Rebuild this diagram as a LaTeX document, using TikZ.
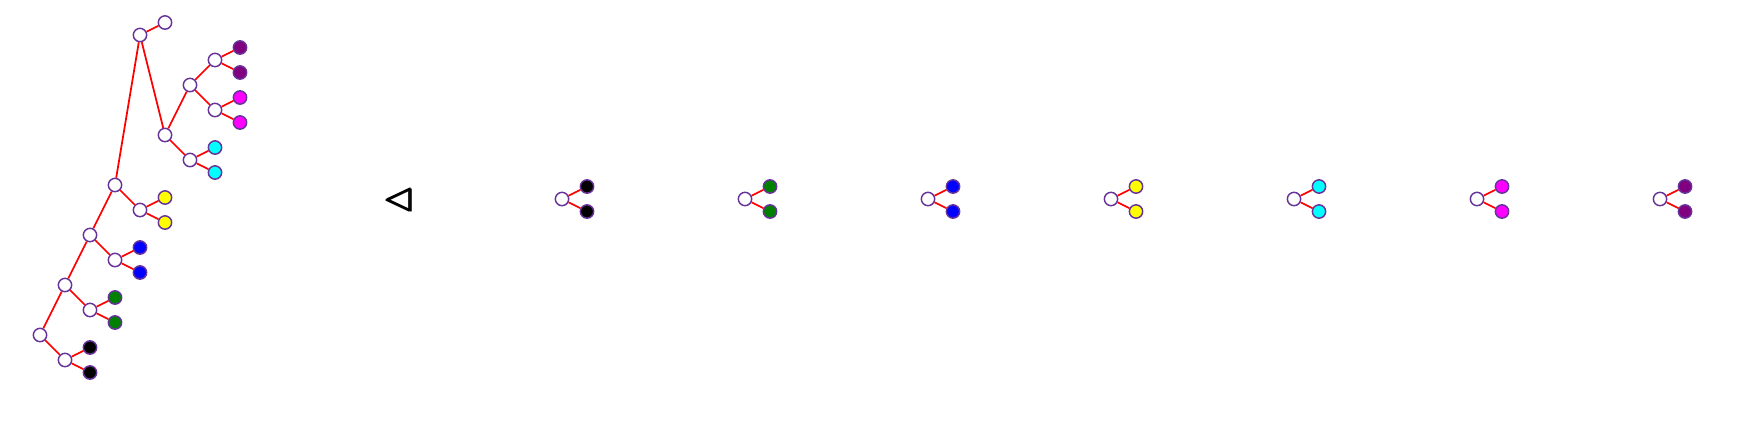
\documentclass[tikz,border=0pt]{standalone}
\usepackage{amsmath,amssymb}
\usepackage{tikz}
\usetikzlibrary{positioning}

\definecolor{ringcol}{RGB}{102,51,153}
\definecolor{leafblack}{RGB}{0,0,0}
\definecolor{leafgreen}{RGB}{0,128,0}
\definecolor{leafblue}{RGB}{0,0,255}
\definecolor{leafyellow}{RGB}{255,255,0}
\definecolor{leafcyan}{RGB}{0,255,255}
\definecolor{leafmagenta}{RGB}{255,0,255}
\definecolor{leafpurple}{RGB}{128,0,128}
\definecolor{edgered}{RGB}{255,0,0}

\tikzset{
  vert/.style={circle, draw=ringcol, line width=1.1pt, minimum size=10pt, inner sep=0pt, fill=white},
  edge/.style={edgered, line width=1.3pt},
}

\begin{document}
\begin{tikzpicture}[x=0.75pt, y=-0.75pt]
    \useasboundingbox (0,0) rectangle (1744,426);
    % Spine of the big tree
    \node[vert] (r0) at (40,335) {};
    \node[vert] (r1) at (65,285) {};
    \node[vert] (r2) at (90,235) {};
    \node[vert] (r3) at (115,185) {};
    \node[vert] (r4) at (140,35) {};
    % Cherries hanging off the spine
    \node[vert] (c0) at (65,360) {};
    \node[vert, fill=leafblack] (c0a) at (90,347.5) {};
    \node[vert, fill=leafblack] (c0b) at (90,372.5) {};
    \node[vert] (c1) at (90,310) {};
    \node[vert, fill=leafgreen] (c1a) at (115,297.5) {};
    \node[vert, fill=leafgreen] (c1b) at (115,322.5) {};
    \node[vert] (c2) at (115,260) {};
    \node[vert, fill=leafblue] (c2a) at (140,247.5) {};
    \node[vert, fill=leafblue] (c2b) at (140,272.5) {};
    \node[vert] (c3) at (140,210) {};
    \node[vert, fill=leafyellow] (c3a) at (165,197.5) {};
    \node[vert, fill=leafyellow] (c3b) at (165,222.5) {};
    % Top part
    \node[vert] (w) at (165,22.5) {};
    \node[vert] (m) at (165,135) {};
    \node[vert] (p) at (190,85) {};
    \node[vert] (q) at (190,160) {};
    \node[vert, fill=leafcyan] (qa) at (215,147.5) {};
    \node[vert, fill=leafcyan] (qb) at (215,172.5) {};
    \node[vert] (u) at (215,60) {};
    \node[vert, fill=leafpurple] (ua) at (240,47.5) {};
    \node[vert, fill=leafpurple] (ub) at (240,72.5) {};
    \node[vert] (v) at (215,110) {};
    \node[vert, fill=leafmagenta] (va) at (240,97.5) {};
    \node[vert, fill=leafmagenta] (vb) at (240,122.5) {};
    % Edges
    \draw[edge] (r0) -- (r1) -- (r2) -- (r3) -- (r4);
    \draw[edge] (r0) -- (c0) (c0) -- (c0a) (c0) -- (c0b);
    \draw[edge] (r1) -- (c1) (c1) -- (c1a) (c1) -- (c1b);
    \draw[edge] (r2) -- (c2) (c2) -- (c2a) (c2) -- (c2b);
    \draw[edge] (r3) -- (c3) (c3) -- (c3a) (c3) -- (c3b);
    \draw[edge] (r4) -- (w) (r4) -- (m);
    \draw[edge] (m) -- (p) (m) -- (q) (q) -- (qa) (q) -- (qb);
    \draw[edge] (p) -- (u) (p) -- (v);
    \draw[edge] (u) -- (ua) (u) -- (ub) (v) -- (va) (v) -- (vb);

    % Relation symbol
    \node (rel) at (400,200) {\fontsize{30}{36}\selectfont$\pmb{\lhd}$};

    % Small cherries
    \node[vert] (k1) at (562,199) {};
    \node[vert, fill=leafblack] (k1a) at (587,186.5) {};
    \node[vert, fill=leafblack] (k1b) at (587,211.5) {};
    \node[vert] (k2) at (745,199) {};
    \node[vert, fill=leafgreen] (k2a) at (770,186.5) {};
    \node[vert, fill=leafgreen] (k2b) at (770,211.5) {};
    \node[vert] (k3) at (928,199) {};
    \node[vert, fill=leafblue] (k3a) at (953,186.5) {};
    \node[vert, fill=leafblue] (k3b) at (953,211.5) {};
    \node[vert] (k4) at (1111,199) {};
    \node[vert, fill=leafyellow] (k4a) at (1136,186.5) {};
    \node[vert, fill=leafyellow] (k4b) at (1136,211.5) {};
    \node[vert] (k5) at (1294,199) {};
    \node[vert, fill=leafcyan] (k5a) at (1319,186.5) {};
    \node[vert, fill=leafcyan] (k5b) at (1319,211.5) {};
    \node[vert] (k6) at (1477,199) {};
    \node[vert, fill=leafmagenta] (k6a) at (1502,186.5) {};
    \node[vert, fill=leafmagenta] (k6b) at (1502,211.5) {};
    \node[vert] (k7) at (1660,199) {};
    \node[vert, fill=leafpurple] (k7a) at (1685,186.5) {};
    \node[vert, fill=leafpurple] (k7b) at (1685,211.5) {};
    \draw[edge] (k1) -- (k1a) (k1) -- (k1b);
    \draw[edge] (k2) -- (k2a) (k2) -- (k2b);
    \draw[edge] (k3) -- (k3a) (k3) -- (k3b);
    \draw[edge] (k4) -- (k4a) (k4) -- (k4b);
    \draw[edge] (k5) -- (k5a) (k5) -- (k5b);
    \draw[edge] (k6) -- (k6a) (k6) -- (k6b);
    \draw[edge] (k7) -- (k7a) (k7) -- (k7b);
  \end{tikzpicture}
\end{document}
